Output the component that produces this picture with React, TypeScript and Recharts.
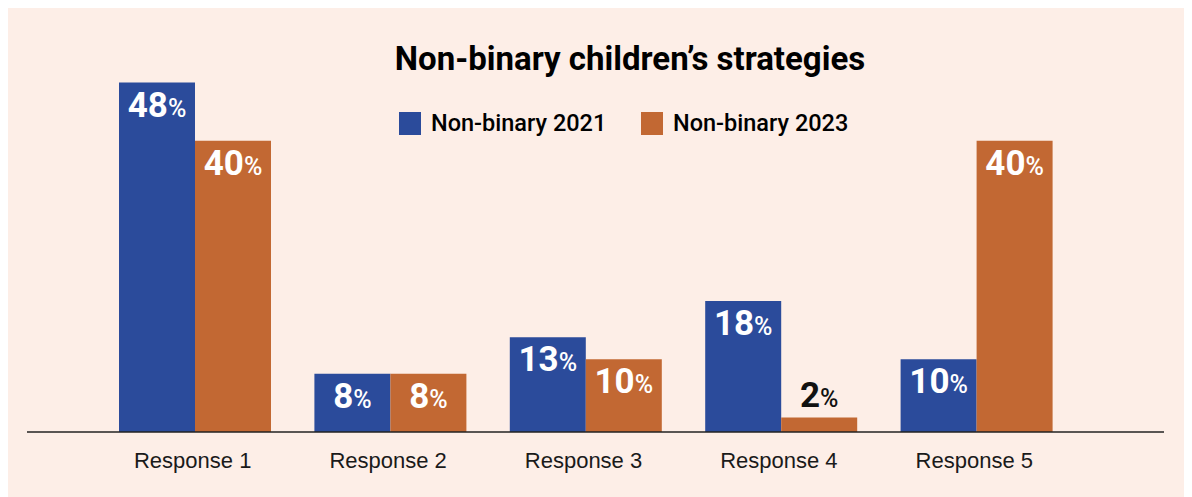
import { Bar, BarChart, LabelList, XAxis, YAxis } from 'recharts';

const CATEGORIES = ['Response 1', 'Response 2', 'Response 3', 'Response 4', 'Response 5'];
const NB_2021 = [48, 8, 13, 18, 10];
const NB_2023 = [40, 8, 10, 2, 40];
const SERIES_NAMES = ['Non-binary 2021', 'Non-binary 2023'];
const TITLE = 'Non-binary children’s strategies';

const BLUE = '#2b4b9b';
const ORANGE = '#c26833';
const BG = '#fdeee7';

const data = CATEGORIES.map((name, i) => ({ name, a: NB_2021[i], b: NB_2023[i] }));

function ValueLabel(props: any) {
  const { x, y, width, height, value } = props;
  const cx = Number(x) + Number(width) / 2;
  const small = Number(height) < 40;
  const base = small ? Number(y) - 10 : Number(y) + 34;
  return (
    <text
      x={cx}
      y={base}
      textAnchor="middle"
      fill={small ? '#111' : '#fff'}
      fontFamily="Roboto, sans-serif"
      fontWeight={700}
    >
      <tspan fontSize={35}>{value}</tspan>
      <tspan fontSize={25} fontWeight={500}>%</tspan>
    </text>
  );
}

function CategoryTick(props: any) {
  const { x, y, payload } = props;
  return (
    <text
      x={x - 2}
      y={y + 28}
      textAnchor="middle"
      fill="#1a1a1a"
      fontFamily="'Liberation Sans', Arial, sans-serif"
      fontSize={22}
    >
      {payload.value}
    </text>
  );
}

export default function App() {
  const legendItems = [
    { name: SERIES_NAMES[0], color: BLUE, left: 391 },
    { name: SERIES_NAMES[1], color: ORANGE, left: 633 },
  ];
  return (
    <div style={{ position: 'relative', width: 1184, height: 489, background: BG }}>
      <div
        style={{
          position: 'absolute',
          top: 33,
          left: 0,
          width: 1244,
          textAlign: 'center',
          fontFamily: 'Roboto, sans-serif',
          fontWeight: 700,
          fontSize: 33,
          color: '#000',
          lineHeight: '36px',
        }}
      >
        {TITLE}
      </div>
      {legendItems.map((it) => (
        <div
          key={it.name}
          style={{
            position: 'absolute',
            top: 104,
            left: it.left,
            display: 'flex',
            alignItems: 'center',
            fontFamily: 'Roboto, sans-serif',
            fontWeight: 500,
            fontSize: 23.5,
            color: '#000',
            lineHeight: '23px',
          }}
        >
          <span style={{ display: 'inline-block', width: 22, height: 23, background: it.color, marginRight: 10 }} />
          {it.name}
        </div>
      ))}
      <BarChart
        width={1184}
        height={489}
        data={data}
        margin={{ top: 60, right: 28, bottom: 20, left: 19 }}
        barGap={0}
        barSize={76}
        style={{ position: 'absolute', top: 0, left: 0 }}
      >
        <XAxis
          dataKey="name"
          padding={{ left: 70, right: 90 }}
          tickLine={false}
          axisLine={{ stroke: '#222', strokeWidth: 1.5 }}
          tick={<CategoryTick />}
          height={45}
          interval={0}
        />
        <YAxis hide domain={[0, 50]} />
        <Bar dataKey="a" name={SERIES_NAMES[0]} fill={BLUE} isAnimationActive={false}>
          <LabelList dataKey="a" content={<ValueLabel />} />
        </Bar>
        <Bar dataKey="b" name={SERIES_NAMES[1]} fill={ORANGE} isAnimationActive={false}>
          <LabelList dataKey="b" content={<ValueLabel />} />
        </Bar>
      </BarChart>
    </div>
  );
}
